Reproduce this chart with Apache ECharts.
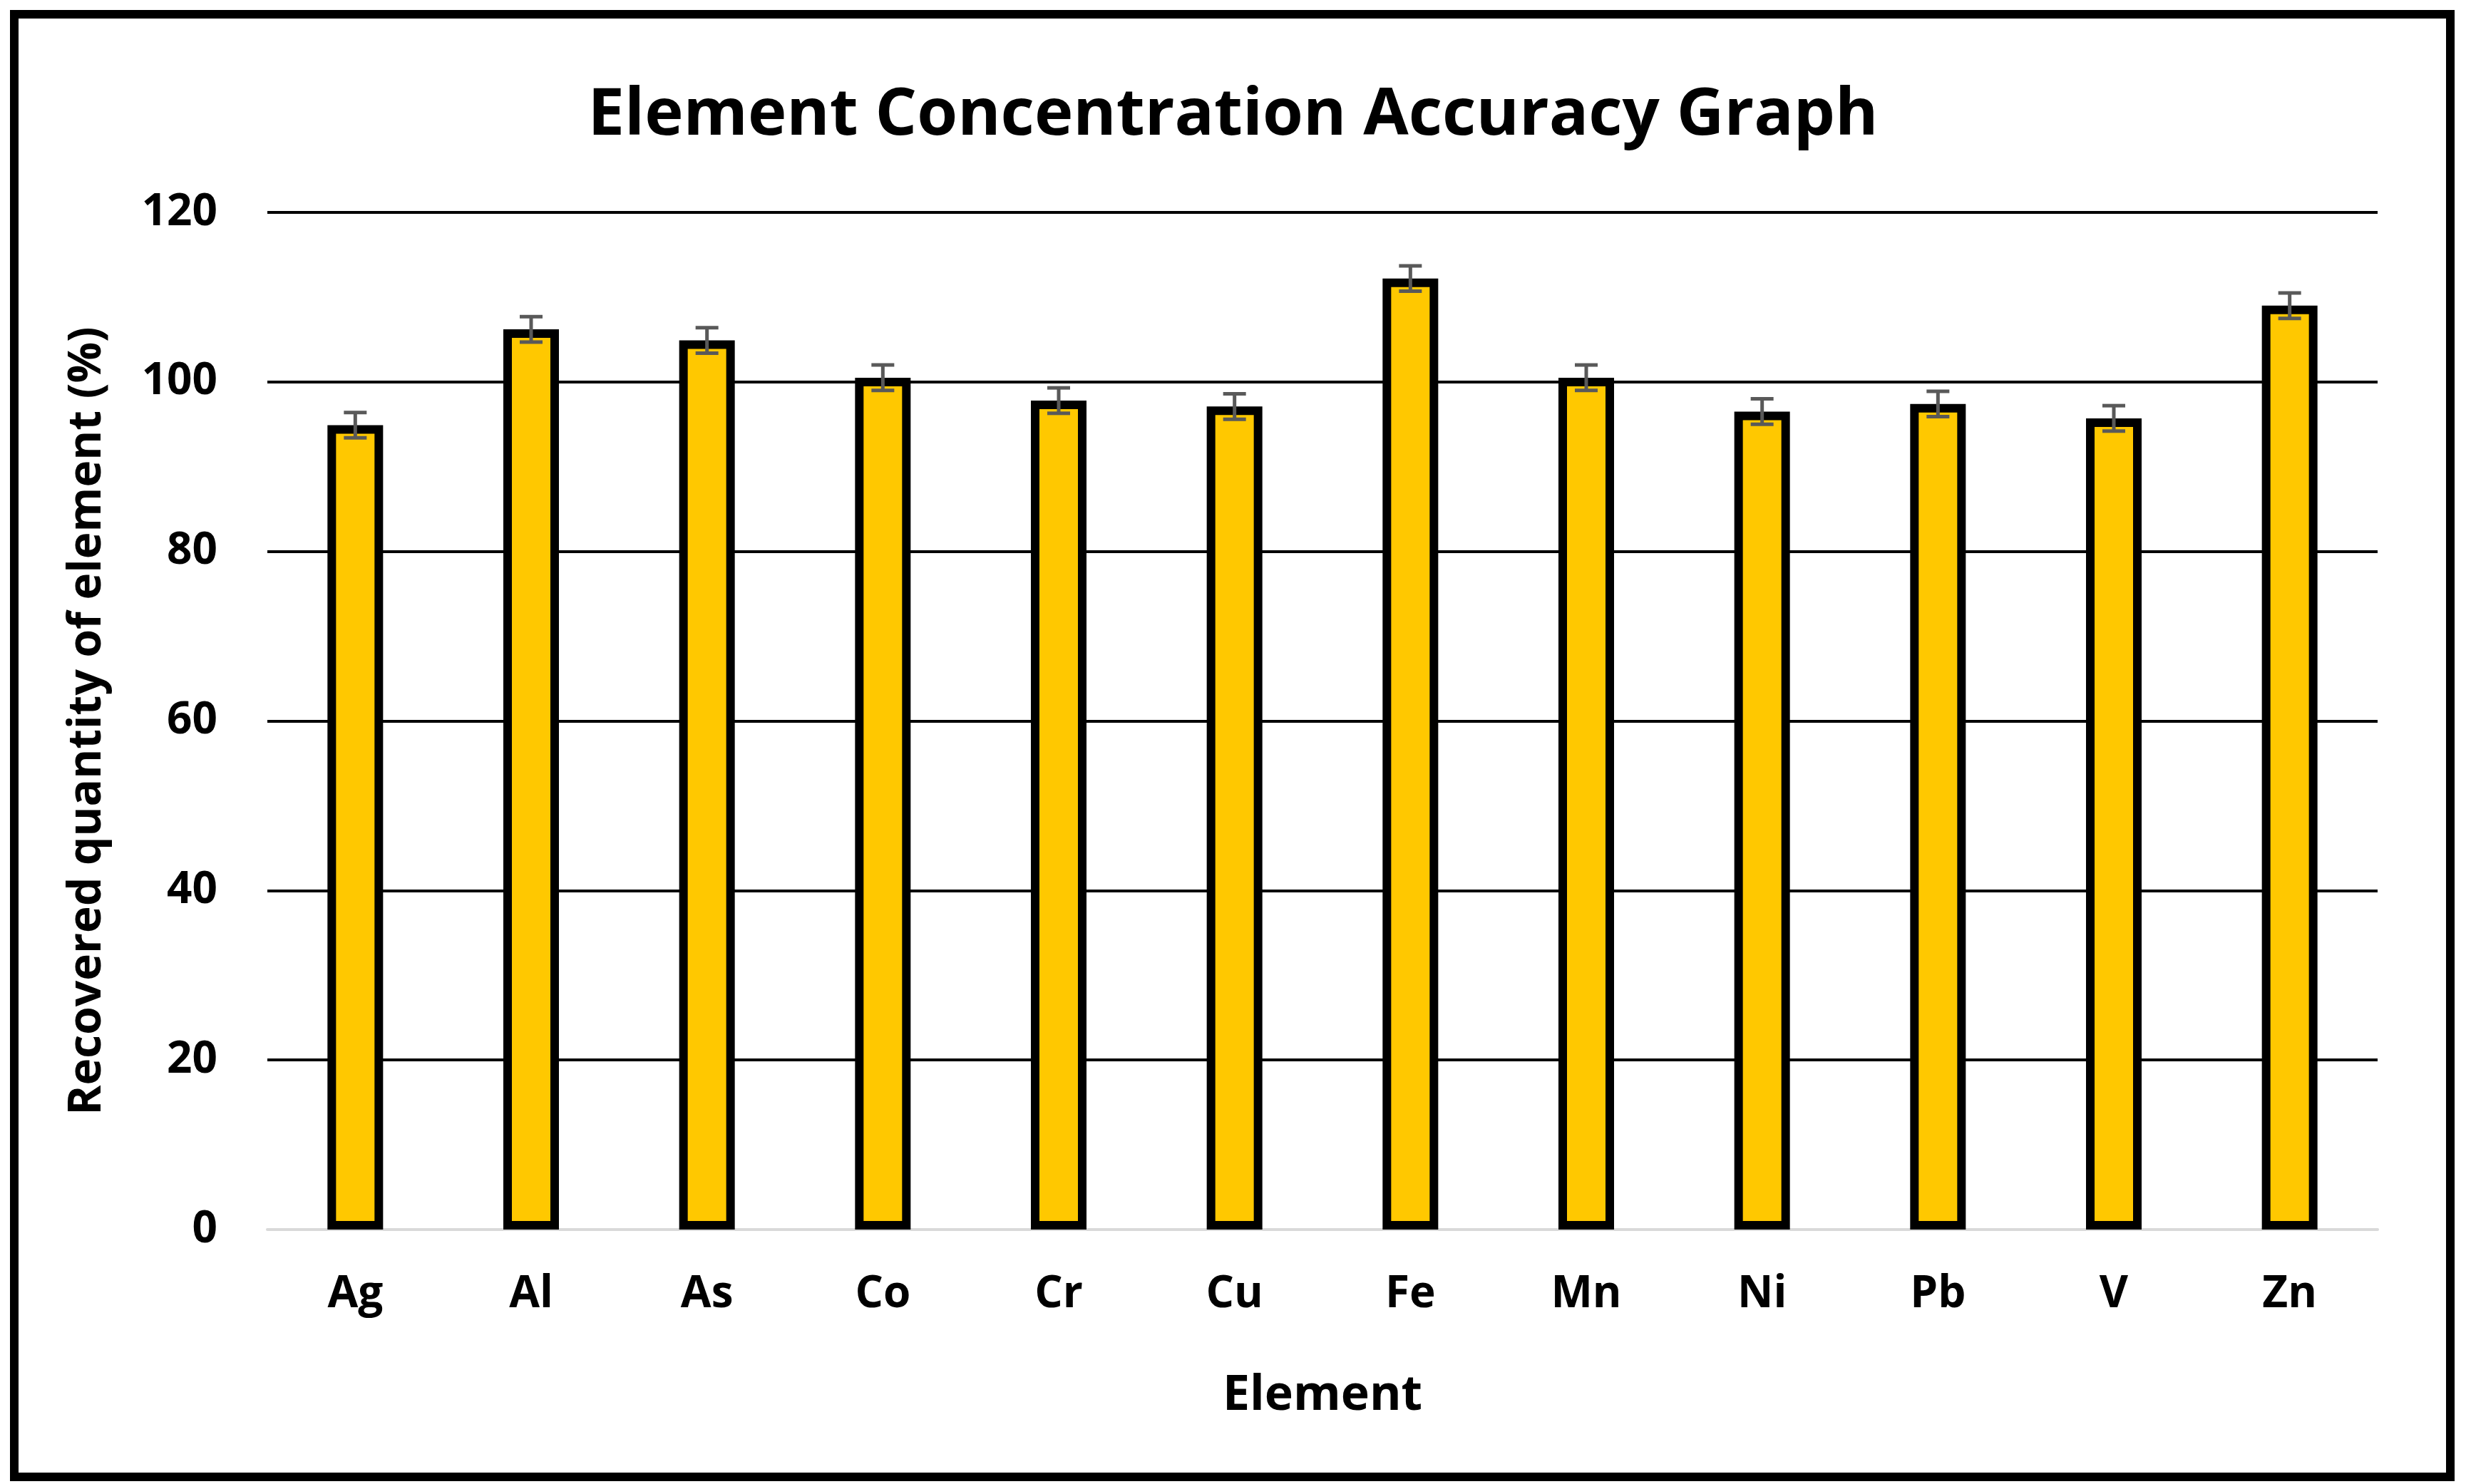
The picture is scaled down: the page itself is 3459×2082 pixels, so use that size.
<!DOCTYPE html>
<html style="height: 100%">
<head>
<meta charset="utf-8">
<script src="https://cdn.jsdelivr.net/npm/echarts@6/dist/echarts.min.js"></script>
</head>
<body style="height: 100%; margin: 0; background: #fff">
<div id="frame" style="position:absolute;left:14px;top:14px;width:3405px;height:2040px;border:12px solid #000;"></div>
<div id="main" style="position:absolute;left:0;top:0;width:3459px;height:2082px"></div>
<script type="text/javascript">
var elements = ['Ag', 'Al', 'As', 'Co', 'Cr', 'Cu', 'Fe', 'Mn', 'Ni', 'Pb', 'V', 'Zn'];
var recovered = [94.9, 106.2, 104.9, 100.5, 97.8, 97.1, 112.2, 100.5, 96.5, 97.4, 95.7, 109.0];
var errors = [1.5, 1.5, 1.5, 1.5, 1.5, 1.5, 1.5, 1.5, 1.5, 1.5, 1.5, 1.5];

var font = 'Open Sans';
var chart = echarts.init(document.getElementById('main'));

var errData = recovered.map(function (v, i) { return [i, v - errors[i], v + errors[i]]; });

var option = {
    animation: false,
    title: {
        text: 'Element Concentration Accuracy Graph',
        left: 'center', top: 112,
        textStyle: {fontFamily: font, fontSize: 92, fontWeight: 'bold', color: '#000'}
    },
    grid: {left: 375, right: 124, top: 298, bottom: 357},
    xAxis: {
        type: 'category',
        data: elements,
        name: 'Element',
        nameLocation: 'middle',
        nameGap: 200,
        nameTextStyle: {fontFamily: font, fontSize: 68, fontWeight: 'bold', color: '#000'},
        axisLine: {lineStyle: {color: '#d9d9d9', width: 4}},
        axisTick: {show: false},
        axisLabel: {fontFamily: font, fontSize: 62, fontWeight: 'bold', color: '#000', margin: 60}
    },
    yAxis: {
        type: 'value',
        min: 0, max: 120, interval: 20,
        name: 'Recovered quantity of element (%)',
        nameLocation: 'middle',
        nameGap: 220,
        nameTextStyle: {fontFamily: font, fontSize: 64, fontWeight: 'bold', color: '#000'},
        axisLabel: {fontFamily: font, fontSize: 62, fontWeight: 'bold', color: '#000', margin: 70},
        splitLine: {lineStyle: {color: '#000', width: 4}}
    },
    series: [
        {
            type: 'bar',
            data: recovered,
            barWidth: 78,
            itemStyle: {color: '#ffc800', borderColor: '#000', borderWidth: 12},
            z: 2
        },
        {
            type: 'custom',
            data: errData,
            z: 3,
            renderItem: function (params, api) {
                var lo = api.coord([api.value(0), api.value(1)]);
                var hi = api.coord([api.value(0), api.value(2)]);
                var w = 16;
                var st = {stroke: '#595959', lineWidth: 5};
                return {type: 'group', children: [
                    {type: 'line', shape: {x1: lo[0], y1: lo[1], x2: hi[0], y2: hi[1]}, style: st},
                    {type: 'line', shape: {x1: lo[0] - w, y1: lo[1], x2: lo[0] + w, y2: lo[1]}, style: st},
                    {type: 'line', shape: {x1: hi[0] - w, y1: hi[1], x2: hi[0] + w, y2: hi[1]}, style: st}
                ]};
            }
        }
    ]
};
chart.setOption(option);
</script>
</body>
</html>
